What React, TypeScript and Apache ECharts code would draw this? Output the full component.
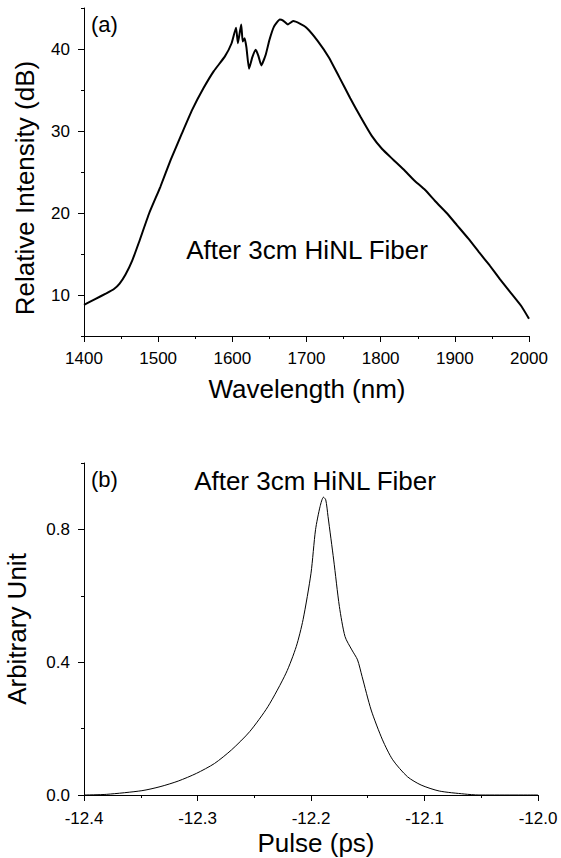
import React, { useEffect, useRef } from "react";
import * as echarts from "echarts";

// Panel (a): spectrum after 3 cm HiNL fiber
const wavelengthNm = [
  1400, 1415, 1430, 1440, 1448, 1456, 1465, 1474, 1488, 1503, 1517, 1532, 1546, 1561, 1575, 1590, 1599,
  1605, 1607.5, 1610, 1612, 1614, 1616.5, 1619, 1622.5, 1627, 1631.5, 1635, 1639, 1645, 1650,
  1656, 1664, 1668, 1675, 1682, 1691, 1700, 1715, 1730, 1744, 1759, 1773, 1788, 1802, 1817,
  1831, 1845, 1860, 1874, 1889, 1903, 1918, 1932, 1947, 1961, 1976, 1990, 2000,
];
const intensityDb = [
  8.8, 9.5, 10.2, 10.7, 11.4, 12.5, 14.2, 16.4, 20.0, 23.2, 26.5, 29.7, 32.6, 35.2, 37.3, 39.1, 40.7,
  42.6, 40.7, 42.0, 43.0, 40.9, 41.3, 40.2, 37.6, 39.0, 39.9, 39.2, 38.0, 39.3, 41.1,
  42.7, 43.6, 43.5, 43.0, 43.4, 43.1, 42.6, 41.0, 39.0, 36.6, 34.0, 31.7, 29.4, 27.8, 26.5,
  25.3, 24.0, 22.8, 21.4, 20.0, 18.5, 16.9, 15.3, 13.6, 11.9, 10.2, 8.6, 7.1,
];

// Panel (b): pulse
const pulseTimePs = [
  -12.4, -12.38, -12.349, -12.333, -12.317, -12.301, -12.285, -12.27, -12.254, -12.238, -12.222,
  -12.213, -12.207, -12.2, -12.196, -12.192, -12.189, -12.187, -12.185, -12.18, -12.175, -12.17,
  -12.164, -12.159, -12.155, -12.147, -12.137, -12.128, -12.115, -12.103, -12.087, -12.065,
  -12.052, -12.0,
];
const pulseAmplitude = [
  0.0, 0.002, 0.013, 0.025, 0.042, 0.065, 0.095, 0.136, 0.191, 0.266, 0.367,
  0.447, 0.528, 0.668, 0.799, 0.869, 0.897, 0.889, 0.839, 0.708, 0.568, 0.477,
  0.437, 0.407, 0.357, 0.256, 0.166, 0.106, 0.055, 0.03, 0.012, 0.003,
  0.0, 0.0,
];

const xTicksA = [1400, 1500, 1600, 1700, 1800, 1900, 2000];
const xMinorA = [1450, 1550, 1650, 1750, 1850, 1950];
const yTicksA = [10, 20, 30, 40];
const yMinorA = [5, 15, 25, 35, 45];
const xTicksB = [-12.4, -12.3, -12.2, -12.1, -12.0];
const xMinorB = [-12.35, -12.25, -12.15, -12.05];
const yTicksB = [0, 0.4, 0.8];
const yMinorB = [0.2, 0.6, 1.0];

const FONT = "Liberation Sans, Arial, Helvetica, sans-serif";
const black = "#000";

function mainAxis(gridIndex: number, pos: string, min: number, max: number, ticks: number[], fmt: (v: number) => string, margin: number) {
  return {
    type: "value",
    gridIndex,
    position: pos,
    min,
    max,
    splitLine: { show: false },
    axisLine: { show: true, onZero: false, lineStyle: { color: black, width: 1 } },
    axisTick: { show: true, customValues: ticks, length: 6, lineStyle: { color: black, width: 1 } },
    axisLabel: { show: true, customValues: ticks, formatter: fmt, color: black, fontSize: 17, fontFamily: FONT, margin },
  };
}
function minorAxis(gridIndex: number, pos: string, min: number, max: number, ticks: number[]) {
  return {
    type: "value",
    gridIndex,
    position: pos,
    min,
    max,
    splitLine: { show: false },
    axisLine: { show: false, onZero: false },
    axisTick: { show: true, customValues: ticks, length: 3, lineStyle: { color: black, width: 1 } },
    axisLabel: { show: false },
  };
}

export default function App() {
  const ref = useRef<HTMLDivElement>(null);
  useEffect(() => {
    if (!ref.current) return;
    const chart = echarts.init(ref.current, null, { renderer: "svg" });
    const txt = (x: number, y: number, text: string, size: number, align = "center", rotation = 0) => ({
      type: "text",
      x,
      y,
      rotation,
      style: { text, fill: black, fontSize: size, fontFamily: FONT, align, verticalAlign: "middle" },
    });
    chart.setOption({
      animation: false,
      backgroundColor: "#fff",
      grid: [
        { left: 84, right: 32, top: 8, bottom: 522 },
        { left: 84, right: 23, top: 463, bottom: 63 },
      ],
      xAxis: [
        mainAxis(0, "bottom", 1400, 2000, xTicksA, (v: number) => String(Math.round(v)), 14),
        minorAxis(0, "bottom", 1400, 2000, xMinorA),
        mainAxis(1, "bottom", -12.4, -12.0, xTicksB, (v: number) => v.toFixed(1), 15),
        minorAxis(1, "bottom", -12.4, -12.0, xMinorB),
      ],
      yAxis: [
        mainAxis(0, "left", 5, 45, yTicksA, (v: number) => String(Math.round(v)), 14),
        minorAxis(0, "left", 5, 45, yMinorA),
        mainAxis(1, "left", 0, 1, yTicksB, (v: number) => v.toFixed(1), 14),
        minorAxis(1, "left", 0, 1, yMinorB),
      ],
      series: [
        {
          type: "line",
          xAxisIndex: 0,
          yAxisIndex: 0,
          data: wavelengthNm.map((w, i) => [w, intensityDb[i]]),
          showSymbol: false,
          smooth: 0.15,
          lineStyle: { color: black, width: 2 },
        },
        {
          type: "line",
          xAxisIndex: 2,
          yAxisIndex: 2,
          data: pulseTimePs.map((t, i) => [t, pulseAmplitude[i]]),
          showSymbol: false,
          smooth: 0.25,
          lineStyle: { color: black, width: 1 },
        },
      ],
      graphic: [
        txt(91, 24, "(a)", 22, "left"),
        txt(307, 250, "After 3cm HiNL Fiber", 26),
        txt(25, 188, "Relative Intensity (dB)", 26, "center", Math.PI / 2),
        txt(307, 389, "Wavelength (nm)", 26),
        txt(91, 479, "(b)", 22, "left"),
        txt(315, 481, "After 3cm HiNL Fiber", 26),
        txt(17, 629, "Arbitrary Unit", 26, "center", Math.PI / 2),
        txt(316, 843, "Pulse (ps)", 26),
      ],
    });
    return () => chart.dispose();
  }, []);
  return <div ref={ref} style={{ position: "absolute", left: 0, top: 0, width: 561, height: 858 }} />;
}
